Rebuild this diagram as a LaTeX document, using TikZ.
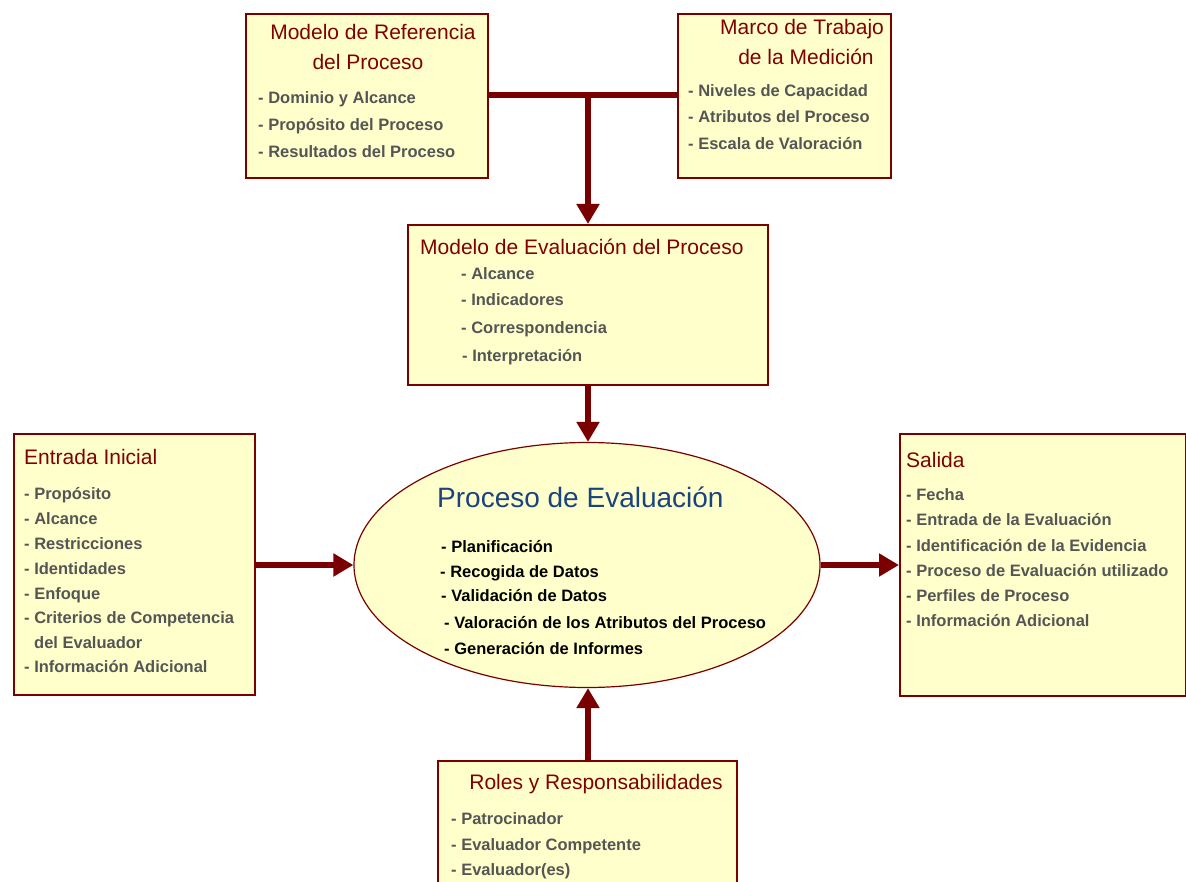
\documentclass[tikz,border=0pt]{standalone}
\usepackage{fontspec}
\setmainfont{Liberation Sans}
\usetikzlibrary{arrows.meta,shapes.geometric}
\definecolor{boxfill}{HTML}{FFFFCC}
\definecolor{darkred}{HTML}{7A0000}
\definecolor{titlered}{HTML}{7F0000}
\definecolor{itemgray}{HTML}{555555}
\definecolor{ellblue}{HTML}{1A4480}
\tikzset{
  box/.style={draw=darkred, line width=1.6pt, fill=boxfill, inner sep=0pt, anchor=north west},
  ttl/.style={text=titlered, font=\fontsize{21}{23}\selectfont, inner sep=0pt},
  itm/.style={text=itemgray, font=\bfseries\fontsize{16.5}{18}\selectfont, anchor=base west, inner sep=0pt},
  eitm/.style={text=black, font=\bfseries\fontsize{16.5}{18}\selectfont, anchor=base west, inner sep=0pt},
  conn/.style={draw=darkred, line width=6pt},
  arr/.style={conn, -{Triangle[length=20pt,width=22pt]}},
}
\begin{document}
\begin{tikzpicture}[x=1pt,y=-1pt]
\clip (0,0) rectangle (1186,882);
\fill[white] (0,0) rectangle (1186,882);
% boxes
\node[box, minimum width=242pt, minimum height=164pt] (mrp) at (245,13) {};
\node[box, minimum width=213pt, minimum height=164pt] (mmt) at (677,13) {};
\node[box, minimum width=360pt, minimum height=160pt] (mep) at (407,224) {};
\node[box, minimum width=241pt, minimum height=261pt] (ent) at (13,433) {};
\node[box, minimum width=286pt, minimum height=262pt] (sal) at (899,433) {};
\node[box, minimum width=299pt, minimum height=140pt] (rol) at (437,760) {};
\node[ellipse, draw=darkred, line width=1.2pt, fill=boxfill, minimum width=466pt, minimum height=245pt, inner sep=0pt] (pe) at (587,565) {};
% connectors
\coordinate (j) at (588,95);
\draw[conn] (mrp.east |- j) -- (mmt.west |- j);
\draw[arr] ([yshift=3pt]j) -- (mep.north -| j);
\draw[arr] (mep.south -| j) -- (pe.north -| j);
\draw[arr] (ent.east |- pe.west) -- (pe.west);
\draw[arr] (pe.east) -- (sal.west |- pe.east);
\draw[arr] (rol.north -| j) -- (pe.south -| j);
% texts: Modelo de Referencia del Proceso
\node[ttl, anchor=base] (t1a) at (373,40) {Modelo de Referencia};
\node[ttl, anchor=base] (t1b) at (368,70) {del Proceso};
\node[itm] (i1a) at (258,104) {- Dominio y Alcance};
\node[itm] (i1b) at (258,131) {- Propósito del Proceso};
\node[itm] (i1c) at (258,158) {- Resultados del Proceso};
% Marco de Trabajo
\node[ttl, anchor=base] (t2a) at (802,35) {Marco de Trabajo};
\node[ttl, anchor=base] (t2b) at (806,65) {de la Medición};
\node[itm] (i2a) at (688,97) {- Niveles de Capacidad};
\node[itm] (i2b) at (688,123) {- Atributos del Proceso};
\node[itm] (i2c) at (688,150) {- Escala de Valoración};
% Modelo de Evaluacion
\node[ttl, anchor=base west] (t3) at (420,255) {Modelo de Evaluación del Proceso};
\node[itm] (i3a) at (461,280) {- Alcance};
\node[itm] (i3b) at (461,306) {- Indicadores};
\node[itm] (i3c) at (461,334) {- Correspondencia};
\node[itm] (i3d) at (462,362) {- Interpretación};
% Entrada Inicial
\node[ttl, anchor=base west] (t4) at (24,464) {Entrada Inicial};
\node[itm] (i4a) at (24,499) {- Propósito};
\node[itm] (i4b) at (24,524) {- Alcance};
\node[itm] (i4c) at (24,549) {- Restricciones};
\node[itm] (i4d) at (24,574) {- Identidades};
\node[itm] (i4e) at (24,599) {- Enfoque};
\node[itm] (i4f) at (24,623) {- Criterios de Competencia};
\node[itm] (i4g) at (34,648) {del Evaluador};
\node[itm] (i4h) at (24,672) {- Información Adicional};
% Salida
\node[ttl, anchor=base west] (t5) at (906,467) {Salida};
\node[itm] (i5a) at (906,500) {- Fecha};
\node[itm] (i5b) at (906,525) {- Entrada de la Evaluación};
\node[itm] (i5c) at (906,551) {- Identificación de la Evidencia};
\node[itm] (i5d) at (906,576) {- Proceso de Evaluación utilizado};
\node[itm] (i5e) at (906,601) {- Perfiles de Proceso};
\node[itm] (i5f) at (906,626) {- Información Adicional};
% Proceso de Evaluacion
\node[text=ellblue, font=\fontsize{28}{30}\selectfont, anchor=base west, inner sep=0pt] (t6) at (437,507) {Proceso de Evaluación};
\node[eitm] (i6a) at (441,552) {- Planificación};
\node[eitm] (i6b) at (440,577) {- Recogida de Datos};
\node[eitm] (i6c) at (441,601) {- Validación de Datos};
\node[eitm] (i6d) at (444,628) {- Valoración de los Atributos del Proceso};
\node[eitm] (i6e) at (444,654) {- Generación de Informes};
% Roles
\node[ttl, anchor=base] (t7) at (596,789) {Roles y Responsabilidades};
\node[itm] (i7a) at (451,824) {- Patrocinador};
\node[itm] (i7b) at (451,850) {- Evaluador Competente};
\node[itm] (i7c) at (451,875) {- Evaluador(es)};
\end{tikzpicture}
\end{document}
